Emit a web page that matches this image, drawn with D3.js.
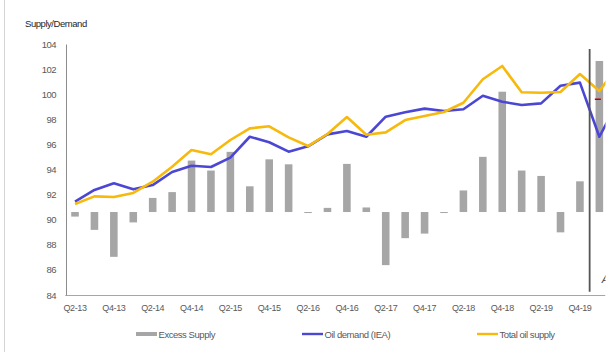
<!DOCTYPE html>
<html>
<head>
<meta charset="utf-8">
<script src="https://d3js.org/d3.v7.min.js"></script>
<style>
  body { margin: 0; background: #fff; }
  text { font-family: "Liberation Sans", Arial, sans-serif; }
</style>
</head>
<body>
<div id="chart"></div>
<script>

// quarters (Q2-20 is only partly visible, the picture is cut at the right)
var quarters = ["Q2-13","Q3-13","Q4-13","Q1-14","Q2-14","Q3-14","Q4-14","Q1-15","Q2-15","Q3-15",
                "Q4-15","Q1-16","Q2-16","Q3-16","Q4-16","Q1-17","Q2-17","Q3-17","Q4-17","Q1-18",
                "Q2-18","Q3-18","Q4-18","Q1-19","Q2-19","Q3-19","Q4-19","Q1-20","Q2-20"];

// excess supply, mb/d (secondary scale, not drawn)
var excessSupply = [-0.11,-0.43,-1.08,-0.25,0.34,0.48,1.24,1.00,1.45,0.62,
                    1.27,1.15,-0.02,0.10,1.16,0.11,-1.28,-0.63,-0.52,-0.02,
                    0.52,1.33,2.90,1.00,0.87,-0.49,0.74,3.64];

// oil demand (IEA), mb/d
var oilDemand = [91.44,92.37,92.90,92.42,92.76,93.80,94.30,94.20,94.95,96.61,
                 96.17,95.42,95.85,96.80,97.07,96.61,98.21,98.56,98.85,98.66,
                 98.80,99.88,99.40,99.14,99.27,100.68,100.92,96.61,99.50];

// total oil supply, mb/d
var totalSupply = [91.25,91.86,91.81,92.13,93.03,94.22,95.55,95.21,96.35,97.28,
                   97.44,96.56,95.87,96.83,98.18,96.77,96.96,97.94,98.27,98.58,
                   99.32,101.19,102.25,100.15,100.12,100.18,101.61,100.25,102.30];

var yTicks = [84,86,88,90,92,94,96,98,100,102,104];
var xTickLabels = quarters.filter(function(d, i) { return i % 2 === 0 && i < 27; });

// red marker and the divider before Q1-20
var markerQuarter = "Q1-20", markerValue = 99.6;
var dividerAfter = "Q4-19";

var legendItems = ["Excess Supply", "Oil demand (IEA)", "Total oil supply"];

var W = 611, H = 352;
var plot = {left: 65.3, top: 44, bottom: 295, clipRight: 605.5};

var svg = d3.select("#chart").append("svg")
    .attr("width", W)
    .attr("height", H);

// frame line at left edge
svg.append("line")
    .attr("x1", 4.5).attr("x2", 4.5)
    .attr("y1", 0).attr("y2", H)
    .attr("stroke", "#d4d4d4")
    .attr("stroke-width", 1);

svg.append("clipPath").attr("id", "clip")
  .append("rect")
    .attr("x", 0).attr("y", 0)
    .attr("width", plot.clipRight).attr("height", H);

var g = svg.append("g").attr("clip-path", "url(#clip)");

// scales
var step = 19.42;
var x = d3.scaleBand()
    .domain(quarters)
    .range([plot.left, plot.left + step * quarters.length])
    .paddingInner(0.61)
    .paddingOuter(0.305);
var cx = function(q) { return x(q) + x.bandwidth() / 2; };

var y = d3.scaleLinear()
    .domain([84, 104])
    .range([plot.bottom, plot.top]);

var y2 = d3.scaleLinear()
    .domain([-2, 4.05])
    .range([plot.bottom, plot.top]);

// bars
g.append("g").selectAll("rect")
    .data(excessSupply)
  .enter().append("rect")
    .attr("x", function(d, i) { return x(quarters[i]); })
    .attr("width", x.bandwidth())
    .attr("y", function(d) { return Math.min(y2(d), y2(0)); })
    .attr("height", function(d) { return Math.max(1, Math.abs(y2(d) - y2(0))); })
    .attr("fill", "#a6a6a6");

// lines
var line = d3.line()
    .x(function(d, i) { return cx(quarters[i]); })
    .y(function(d) { return y(d); });

g.append("path")
    .datum(oilDemand)
    .attr("fill", "none")
    .attr("stroke", "#4b47d4")
    .attr("stroke-width", 2.6)
    .attr("stroke-linejoin", "round")
    .attr("d", line);

g.append("path")
    .datum(totalSupply)
    .attr("fill", "none")
    .attr("stroke", "#f7b90c")
    .attr("stroke-width", 2.6)
    .attr("stroke-linejoin", "round")
    .attr("d", line);

// red marker
g.append("line")
    .attr("x1", cx(markerQuarter) - 4.5)
    .attr("x2", cx(markerQuarter) + 1.5)
    .attr("y1", y(markerValue)).attr("y2", y(markerValue))
    .attr("stroke", "#c00000")
    .attr("stroke-width", 1.6);

// divider line
var divX = x(dividerAfter) + x.bandwidth() / 2 + step / 2;
g.append("line")
    .attr("x1", divX).attr("x2", divX)
    .attr("y1", y(103.6)).attr("y2", y(84.25))
    .attr("stroke", "#555")
    .attr("stroke-width", 1.8);

// cut-off annotation at the bottom right
g.append("text")
    .attr("x", divX + 12)
    .attr("y", 283)
    .attr("font-size", "11px")
    .attr("font-style", "italic")
    .attr("fill", "#555")
    .text("A");

// x axis
var xAxis = g.append("g")
    .attr("transform", "translate(0," + plot.bottom + ")")
    .call(d3.axisBottom(x).tickValues(xTickLabels).tickSize(0).tickPadding(10));
xAxis.select(".domain")
    .attr("stroke", "#a6a6a6")
    .attr("d", "M" + plot.left + ",0.5H" + plot.clipRight);
xAxis.selectAll("text")
    .attr("font-family", "Liberation Sans, Arial, sans-serif")
    .attr("font-size", "9px")
    .attr("letter-spacing", "-0.4px")
    .attr("fill", "#595959");

// y axis
var yAxis = svg.append("g")
    .attr("transform", "translate(" + (plot.left + 0.7) + ",0)")
    .call(d3.axisLeft(y).tickValues(yTicks).tickSize(0).tickPadding(10));
yAxis.select(".domain").attr("stroke", "#8c8c8c");
yAxis.selectAll("text")
    .attr("font-family", "Liberation Sans, Arial, sans-serif")
    .attr("font-size", "9.5px")
    .attr("letter-spacing", "-0.5px")
    .attr("fill", "#595959");

// axis title
svg.append("text")
    .attr("x", 25)
    .attr("y", 27)
    .attr("font-size", "9.5px")
    .attr("letter-spacing", "-0.45px")
    .attr("fill", "#262626")
    .text("Supply/Demand");

// legend
var legendX = [136, 302, 477];
var legendY = 334;
var legend = svg.append("g").selectAll("g")
    .data(legendItems)
  .enter().append("g")
    .attr("transform", function(d, i) { return "translate(" + legendX[i] + "," + legendY + ")"; });

legend.each(function(d, i) {
  var el = d3.select(this);
  if (i === 0) {
    el.append("rect")
      .attr("x", 0).attr("y", -2)
      .attr("width", 21).attr("height", 4)
      .attr("fill", "#a6a6a6");
  } else {
    el.append("line")
      .attr("x1", 0).attr("x2", 21)
      .attr("y1", 0).attr("y2", 0)
      .attr("stroke", i === 1 ? "#4b47d4" : "#f7b90c")
      .attr("stroke-width", 2.4);
  }
  el.append("text")
    .attr("x", 22.5)
    .attr("y", 3.5)
    .attr("font-size", "9.5px")
    .attr("letter-spacing", "-0.45px")
    .attr("fill", "#595959")
    .text(d);
});

</script>
</body>
</html>
